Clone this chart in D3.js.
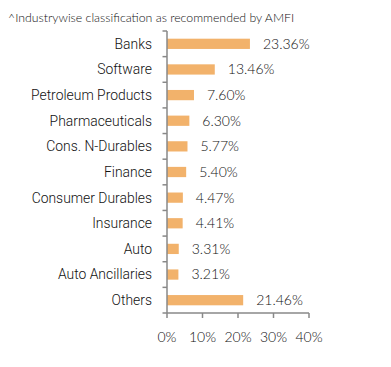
<!DOCTYPE html>
<html><head><meta charset="utf-8">
<script src="https://cdn.jsdelivr.net/npm/d3@7"></script>
<style>body{margin:0;background:#fff}</style>
</head><body>
<svg id="c" width="391" height="367"></svg>
<script>
const categories = ["Banks","Software","Petroleum Products","Pharmaceuticals","Cons. N-Durables","Finance","Consumer Durables","Insurance","Auto","Auto Ancillaries","Others"];
const values = [23.36,13.46,7.60,6.30,5.77,5.40,4.47,4.41,3.31,3.21,21.46];
const xTicks = [0,10,20,30,40];
const title = "^Industrywise classification as recommended by AMFI";

(function(){
const svg = d3.select("#c");
const mLeft = 167, mRight = 309, mTop = 31, mBottom = 313;
const x = d3.scaleLinear().domain([0,40]).range([mLeft,mRight]);
const y = d3.scaleBand().domain(categories).range([mTop,mBottom]).paddingInner(0.6).paddingOuter(0.3);

svg.append("text").attr("x",8).attr("y",22).text(title)
  .attr("font-family","Lato").attr("font-weight",300).attr("font-size",12.3).attr("fill","#111");

svg.append("g").selectAll("rect").data(categories).join("rect")
  .attr("x",x(0)).attr("y",d=>y(d)).attr("height",y.bandwidth())
  .attr("width",(d,i)=>x(values[i])-x(0)).attr("fill","#F2B26B");

svg.append("g").selectAll("text").data(categories).join("text")
  .attr("x",(d,i)=>x(values[i])+13).attr("y",d=>y(d)+y.bandwidth()/2)
  .attr("dy","0.35em").text((d,i)=>values[i].toFixed(2)+"%")
  .attr("font-family","Lato").attr("font-weight",300).attr("font-size",14).attr("fill","#111");

// y axis
const yg = svg.append("g");
yg.append("line").attr("x1",mLeft).attr("x2",mLeft).attr("y1",mTop).attr("y2",mBottom).attr("stroke","#888").attr("stroke-width",1.5);
const edges = d3.range(categories.length+1).map(i=>mTop+i*(mBottom-mTop)/categories.length);
yg.selectAll("line.t").data(edges).join("line").attr("class","t")
  .attr("x1",mLeft-4.5).attr("x2",mLeft).attr("y1",d=>d).attr("y2",d=>d).attr("stroke","#888").attr("stroke-width",1.5);
yg.selectAll("text").data(categories).join("text")
  .attr("x",152).attr("y",d=>y(d)+y.bandwidth()/2).attr("dy","0.35em")
  .attr("text-anchor","end").text(d=>d)
  .attr("font-family","Roboto").attr("font-weight",300).attr("font-size",13.9).attr("fill","#111");

// x axis
const xg = svg.append("g");
xg.append("line").attr("x1",mLeft).attr("x2",mRight).attr("y1",mBottom).attr("y2",mBottom).attr("stroke","#888").attr("stroke-width",1.5);
xg.selectAll("line.t").data(xTicks).join("line").attr("class","t")
  .attr("x1",d=>x(d)).attr("x2",d=>x(d)).attr("y1",mBottom).attr("y2",mBottom+5).attr("stroke","#888").attr("stroke-width",1.5);
xg.selectAll("text").data(xTicks).join("text")
  .attr("x",d=>x(d)).attr("y",337).attr("dy","0.35em").attr("text-anchor","middle")
  .text(d=>d+"%").attr("font-family","Lato").attr("font-weight",300).attr("font-size",14).attr("fill","#111");
})();
</script>
</body></html>
